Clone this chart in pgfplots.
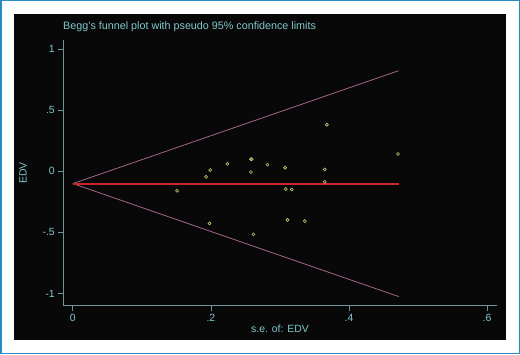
\documentclass[border=0pt]{standalone}
\usepackage{pgfplots}
\pgfplotsset{compat=1.18}
\usepackage{fontspec}
\setmainfont{Liberation Sans}
\definecolor{frameblue}{RGB}{40,140,195}
\definecolor{paneltxt}{RGB}{130,200,205}
\definecolor{axcol}{RGB}{110,150,150}
\definecolor{ptcol}{RGB}{205,195,110}
\definecolor{funl}{RGB}{165,100,140}
\definecolor{hred}{RGB}{205,35,45}
\begin{document}
\begin{tikzpicture}[x=1bp,y=1bp]
\fill[white] (0,0) rectangle (520,354);
\draw[frameblue, line width=1.5bp] (0.75,0.75) rectangle (519.25,353.25);
\fill[black!97] (14,14) rectangle (506,340);
\node[anchor=base west, text=paneltxt, font=\fontsize{10.8}{12}\selectfont, inner sep=0pt] at (63,325) {Begg's funnel plot with pseudo 95\% confidence limits};
\begin{axis}[
  at={(63.3bp,48.3bp)}, anchor=south west,
  scale only axis, width=433.4bp, height=265.7bp,
  xmin=-0.0138, xmax=0.614, ymin=-1.10, ymax=1.076,
  axis lines=left, axis line style={-, axcol, line width=0.8bp},
  tick align=outside, major tick length=5bp,
  tick style={axcol, line width=0.8bp},
  xtick={0,0.2,0.4,0.6}, xticklabels={0,.2,.4,.6},
  ytick={-1,-0.5,0,0.5,1}, yticklabels={-1,-.5,0,.5,1},
  /pgf/number format/assume math mode=true,
  ticklabel style={text=paneltxt, font=\fontsize{10.5}{12}\selectfont},
  xlabel={s.e. of: EDV}, ylabel={EDV},
  label style={text=paneltxt, font=\fontsize{10.5}{12}\selectfont},
  xlabel style={yshift=4bp},
  ylabel style={yshift=9bp},
  clip=false,
]
\addplot[color=funl, line width=0.8bp, mark=none] coordinates {(0,-0.1) (0.472,0.825)};
\addplot[color=funl, line width=0.8bp, mark=none] coordinates {(0,-0.1) (0.472,-1.025)};
\addplot[draw=hred, line width=2bp, mark=none] coordinates {(0,-0.1) (0.472,-0.1)};
\addplot[only marks, mark=o, mark size=1.5bp, color=ptcol, mark options={line width=0.6bp}] coordinates {
(0.368,0.382) (0.471,0.142) (0.258,0.101) (0.259,0.099) (0.224,0.062) (0.282,0.054)
(0.199,0.011) (0.3075,0.030) (0.365,0.016) (0.258,-0.006) (0.193,-0.044)
(0.365,-0.085) (0.151,-0.159) (0.3085,-0.145) (0.317,-0.148) (0.311,-0.397)
(0.336,-0.407) (0.198,-0.426) (0.2616,-0.516)
};
\end{axis}
\end{tikzpicture}
\end{document}
